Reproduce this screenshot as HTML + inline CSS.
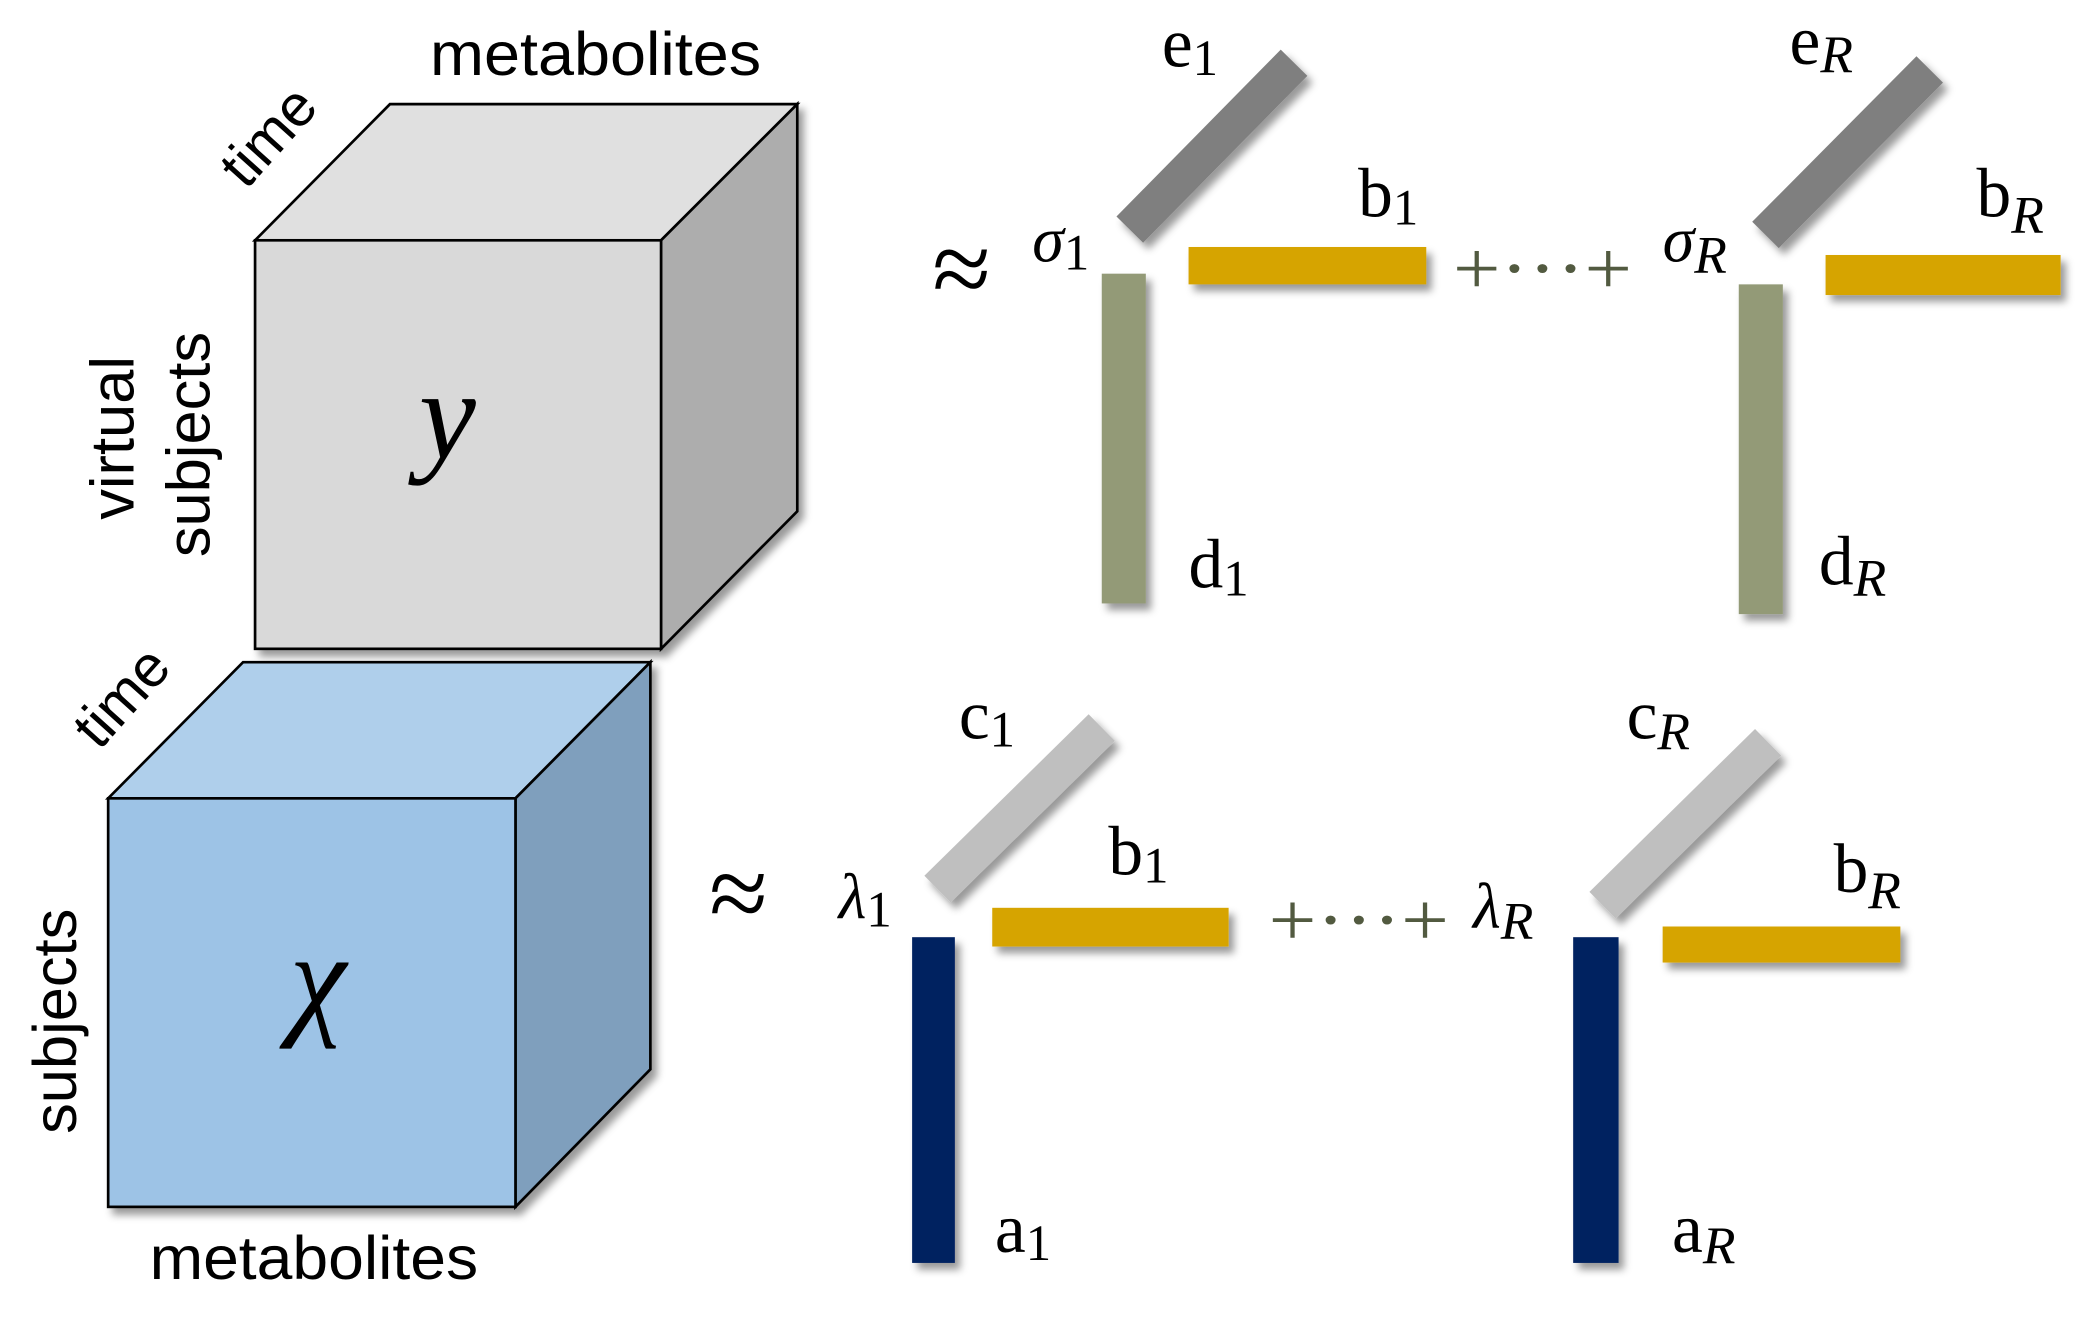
<!DOCTYPE html>
<html><head><meta charset="utf-8"><style>
html,body{margin:0;padding:0;background:#fff;width:2094px;height:1319px;overflow:hidden}
svg{display:block}
.s{font-family:"Liberation Sans",sans-serif;fill:#000}
.m{font-family:"Liberation Serif",serif;fill:#000}
</style></head><body>
<svg width="2094" height="1319" viewBox="0 0 1568 988" preserveAspectRatio="none" xmlns="http://www.w3.org/2000/svg">
<defs>
<filter id="sh" x="-30%" y="-30%" width="160%" height="160%"><feDropShadow dx="4" dy="5" stdDeviation="3" flood-color="#000" flood-opacity="0.4"/></filter>
</defs>
<g filter="url(#sh)" stroke="#000" stroke-width="2" stroke-linejoin="miter">
<polygon points="191,180 292,78 597,78 495,180" fill="#e0e0e0"/>
<polygon points="495,180 597,78 597,383 495,486" fill="#adadad"/>
<rect x="191" y="180" width="304" height="306" fill="#d9d9d9"/>
</g>
<g filter="url(#sh)" stroke="#000" stroke-width="2">
<polygon points="81,598 182,496 487,496 386,598" fill="#afcfeb"/>
<polygon points="386,598 487,496 487,801 386,904" fill="#7f9fbd"/>
<rect x="81" y="598" width="305" height="306" fill="#9dc3e6"/>
</g>
<text class="s" x="446" y="56" font-size="46" text-anchor="middle" textLength="248" lengthAdjust="spacingAndGlyphs">metabolites</text>
<text class="s" x="235" y="958" font-size="46" text-anchor="middle" textLength="246" lengthAdjust="spacingAndGlyphs">metabolites</text>
<text class="s" font-size="44" text-anchor="middle" transform="translate(212,112) rotate(-48)">time</text>
<text class="s" font-size="44" text-anchor="middle" transform="translate(102,532) rotate(-48)">time</text>
<text class="s" font-size="46" text-anchor="middle" transform="translate(100,328) rotate(-90)">virtual</text>
<text class="s" font-size="46" text-anchor="middle" transform="translate(157,333) rotate(-90)">subjects</text>
<text class="s" font-size="46" text-anchor="middle" transform="translate(57,765) rotate(-90)">subjects</text>
<text class="m" x="335" y="343" font-size="96" font-style="italic" text-anchor="middle">y</text>
<text class="m" x="238" y="765" font-size="96" font-style="italic" text-anchor="middle">χ</text>

<text class="m" x="720" y="228" font-size="80" text-anchor="middle">≈</text>
<text class="m" x="773" y="196" font-size="48" font-style="italic">σ<tspan font-size="38" font-style="normal" dy="6">1</tspan></text>
<g filter="url(#sh)">
<line x1="846" y1="172" x2="969" y2="47" stroke="#7f7f7f" stroke-width="28"/>
<rect x="825" y="205" width="33" height="247" fill="#939a77"/>
<rect x="890" y="185" width="178" height="28" fill="#d6a400"/>
<line x1="1322" y1="176" x2="1445" y2="52" stroke="#7f7f7f" stroke-width="28"/>
<rect x="1302" y="213" width="33" height="247" fill="#939a77"/>
<rect x="1367" y="191" width="176" height="30" fill="#d6a400"/>
</g>
<text class="m" x="870" y="50" font-size="52">e<tspan font-size="38" dy="6">1</tspan></text>
<text class="m" x="1017" y="162" font-size="52">b<tspan font-size="38" dy="6">1</tspan></text>
<text class="m" x="890" y="440" font-size="52">d<tspan font-size="38" dy="6">1</tspan></text>
<text x="1088" y="220" font-family="Liberation Serif,serif" font-size="56" fill="#525a40" textLength="134" lengthAdjust="spacingAndGlyphs">+···+</text>
<text class="m" x="1245" y="196" font-size="48" font-style="italic">σ<tspan font-size="40" dy="8">R</tspan></text>
<text class="m" x="1340" y="48" font-size="52">e<tspan font-size="40" font-style="italic" dy="6">R</tspan></text>
<text class="m" x="1480" y="162" font-size="52">b<tspan font-size="40" font-style="italic" dy="12">R</tspan></text>
<text class="m" x="1362" y="438" font-size="52">d<tspan font-size="40" font-style="italic" dy="8">R</tspan></text>

<text class="m" x="553" y="696" font-size="80" text-anchor="middle">≈</text>
<text class="m" x="628" y="688" font-size="48" font-style="italic">λ<tspan font-size="38" font-style="normal" dy="6">1</tspan></text>
<g filter="url(#sh)">
<line x1="702" y1="666" x2="825" y2="545" stroke="#bfbfbf" stroke-width="28"/>
<rect x="683" y="702" width="32" height="244" fill="#002060"/>
<rect x="743" y="680" width="177" height="29" fill="#d6a400"/>
<line x1="1200" y1="678" x2="1324" y2="556" stroke="#bfbfbf" stroke-width="28"/>
<rect x="1178" y="702" width="34" height="244" fill="#002060"/>
<rect x="1245" y="694" width="178" height="27" fill="#d6a400"/>
</g>
<text class="m" x="718" y="553" font-size="52">c<tspan font-size="38" dy="6">1</tspan></text>
<text class="m" x="830" y="655" font-size="52">b<tspan font-size="38" dy="6">1</tspan></text>
<text class="m" x="745" y="938" font-size="52">a<tspan font-size="38" dy="6">1</tspan></text>
<text x="950" y="708" font-family="Liberation Serif,serif" font-size="56" fill="#525a40" textLength="135" lengthAdjust="spacingAndGlyphs">+···+</text>
<text class="m" x="1103" y="695" font-size="48" font-style="italic">λ<tspan font-size="40" dy="8">R</tspan></text>
<text class="m" x="1218" y="553" font-size="52">c<tspan font-size="40" font-style="italic" dy="8">R</tspan></text>
<text class="m" x="1373" y="668" font-size="52">b<tspan font-size="40" font-style="italic" dy="12">R</tspan></text>
<text class="m" x="1252" y="938" font-size="52">a<tspan font-size="40" font-style="italic" dy="8">R</tspan></text>
</svg>
</body></html>
